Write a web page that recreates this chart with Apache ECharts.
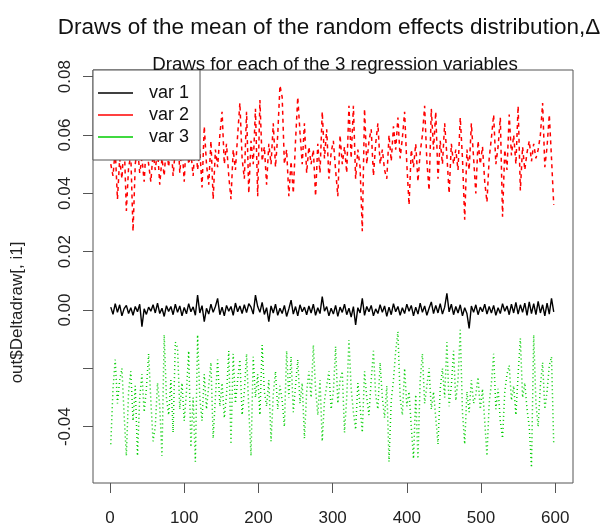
<!DOCTYPE html>
<html>
<head>
<meta charset="utf-8">
<script src="https://cdn.jsdelivr.net/npm/echarts@6/dist/echarts.min.js"></script>
<style>
html, body { margin: 0; padding: 0; background: #fff; }
#chart { width: 602px; height: 527px; }
</style>
</head>
<body>
<div id="chart"></div>
<script>
// MCMC draws, one value every 3rd draw
const step = 3
const seriesNames = ['var 1', 'var 2', 'var 3']

const var1 = [
  0.0010, -0.0015, 0.0022, -0.0008, 0.0018, -0.0020, 0.0005, 0.0016, -0.0012, 0.0008,
  -0.0018, 0.0012, -0.0006, 0.0020, -0.0057, 0.0004, -0.0015, 0.0010, -0.0004, 0.0018,
  -0.0010, 0.0024, -0.0012, 0.0006, -0.0022, 0.0015, -0.0005, 0.0012, -0.0016, 0.0020,
  -0.0008, 0.0014, -0.0020, 0.0009, -0.0013, 0.0022, -0.0006, 0.0011, -0.0018, 0.0051,
  -0.0010, 0.0015, -0.0040, 0.0006, -0.0014, 0.0020, -0.0008, 0.0012, 0.0040, -0.0016,
  0.0010, -0.0020, 0.0016, -0.0004, 0.0012, -0.0018, 0.0024, -0.0006, 0.0014, -0.0012,
  0.0018, -0.0009, 0.0022, 0.0010, -0.0014, 0.0051, 0.0012, -0.0008, 0.0026, -0.0015,
  0.0008, -0.0040, 0.0014, -0.0010, 0.0020, -0.0018, 0.0006, -0.0012, 0.0016, -0.0022,
  0.0004, 0.0034, -0.0014, 0.0012, -0.0020, 0.0018, -0.0006, 0.0010, -0.0016, 0.0014,
  -0.0010, 0.0020, -0.0018, 0.0008, -0.0012, 0.0046, -0.0004, 0.0012, -0.0020, 0.0006,
  -0.0014, 0.0016, -0.0022, 0.0010, -0.0008, 0.0020, -0.0016, 0.0006, -0.0024, 0.0012,
  -0.0051, 0.0008, -0.0010, 0.0040, -0.0018, 0.0012, -0.0006, 0.0016, -0.0020, 0.0004,
  -0.0012, 0.0018, -0.0008, 0.0014, -0.0022, 0.0010, -0.0016, 0.0022, -0.0006, 0.0012,
  -0.0018, 0.0008, -0.0012, 0.0020, -0.0004, 0.0016, -0.0020, 0.0010, -0.0014, 0.0024,
  -0.0008, 0.0014, -0.0018, 0.0006, 0.0028, -0.0012, 0.0016, -0.0010, 0.0022, -0.0014,
  0.0010, 0.0057, -0.0006, 0.0020, -0.0016, 0.0012, -0.0010, 0.0018, -0.0020, 0.0008,
  -0.0012, -0.0063, 0.0014, -0.0008, 0.0018, -0.0016, 0.0010, -0.0006, 0.0020, -0.0014,
  0.0012, -0.0010, 0.0016, -0.0018, 0.0008, -0.0012, 0.0022, -0.0004, 0.0014, -0.0016,
  0.0020, -0.0010, 0.0026, -0.0014, 0.0018, -0.0008, 0.0024, -0.0018, 0.0028, -0.0012,
  0.0022, -0.0016, 0.0030, -0.0010, 0.0018, -0.0020, 0.0024, -0.0014, 0.0040, -0.0006
]

const var2 = [
  0.050, 0.046, 0.055, 0.038, 0.052, 0.045, 0.058, 0.034, 0.049, 0.053,
  0.027, 0.050, 0.056, 0.047, 0.052, 0.044, 0.058, 0.050, 0.044, 0.054,
  0.048, 0.055, 0.043, 0.052, 0.046, 0.057, 0.049, 0.058, 0.046, 0.055,
  0.063, 0.047, 0.056, 0.044, 0.060, 0.050, 0.054, 0.046, 0.059, 0.048,
  0.055, 0.042, 0.063, 0.050, 0.043, 0.058, 0.038, 0.055, 0.049, 0.060,
  0.068, 0.050, 0.057, 0.046, 0.038, 0.055, 0.048, 0.060, 0.071, 0.052,
  0.045, 0.068, 0.040, 0.058, 0.050, 0.069, 0.039, 0.072, 0.051, 0.056,
  0.043, 0.057, 0.050, 0.064, 0.049, 0.060, 0.077, 0.073, 0.050, 0.055,
  0.039, 0.051, 0.040, 0.058, 0.073, 0.061, 0.050, 0.064, 0.047, 0.056,
  0.050, 0.055, 0.039, 0.057, 0.047, 0.068, 0.052, 0.062, 0.045, 0.054,
  0.058, 0.048, 0.039, 0.060, 0.050, 0.056, 0.047, 0.070, 0.052, 0.070,
  0.045, 0.055, 0.049, 0.027, 0.069, 0.050, 0.058, 0.062, 0.046, 0.057,
  0.064, 0.050, 0.055, 0.048, 0.045, 0.060, 0.051, 0.063, 0.055, 0.066,
  0.052, 0.059, 0.068, 0.050, 0.036, 0.055, 0.049, 0.057, 0.044, 0.054,
  0.060, 0.070, 0.051, 0.041, 0.069, 0.055, 0.068, 0.045, 0.058, 0.050,
  0.064, 0.053, 0.040, 0.057, 0.050, 0.055, 0.048, 0.066, 0.052, 0.031,
  0.055, 0.048, 0.064, 0.052, 0.040, 0.058, 0.050, 0.056, 0.044, 0.037,
  0.052, 0.059, 0.067, 0.050, 0.056, 0.066, 0.032, 0.055, 0.048, 0.067,
  0.053, 0.060, 0.050, 0.070, 0.041, 0.056, 0.048, 0.054, 0.058, 0.051,
  0.057, 0.052, 0.055, 0.060, 0.071, 0.049, 0.056, 0.067, 0.052, 0.036
]

const var3 = [
  -0.046, -0.027, -0.017, -0.032, -0.024, -0.020, -0.036, -0.050, -0.028, -0.021,
  -0.038, -0.026, -0.050, -0.030, -0.022, -0.035, -0.027, -0.015, -0.031, -0.045,
  -0.040, -0.025, -0.033, -0.050, -0.0085, -0.030, -0.036, -0.024, -0.042, -0.011,
  -0.013, -0.034, -0.025, -0.038, -0.028, -0.014, -0.047, -0.030, -0.052, -0.0085,
  -0.030, -0.038, -0.022, -0.034, -0.026, -0.018, -0.044, -0.030, -0.017, -0.033,
  -0.025, -0.037, -0.029, -0.014, -0.046, -0.015, -0.032, -0.024, -0.017, -0.036,
  -0.028, -0.015, -0.034, -0.050, -0.016, -0.030, -0.022, -0.036, -0.012, -0.028,
  -0.033, -0.024, -0.045, -0.029, -0.021, -0.034, -0.026, -0.031, -0.040, -0.014,
  -0.030, -0.016, -0.035, -0.026, -0.017, -0.032, -0.025, -0.044, -0.028, -0.021,
  -0.030, -0.012, -0.027, -0.036, -0.024, -0.045, -0.031, -0.026, -0.021, -0.034,
  -0.028, -0.0125, -0.032, -0.024, -0.021, -0.042, -0.030, -0.0103, -0.027, -0.035,
  -0.041, -0.025, -0.033, -0.042, -0.021, -0.030, -0.036, -0.024, -0.014, -0.029,
  -0.034, -0.018, -0.030, -0.037, -0.026, -0.052, -0.031, -0.024, -0.014, -0.0074,
  -0.030, -0.036, -0.020, -0.033, -0.028, -0.040, -0.051, -0.029, -0.051, -0.024,
  -0.015, -0.032, -0.026, -0.020, -0.034, -0.028, -0.037, -0.046, -0.027, -0.020,
  -0.030, -0.011, -0.033, -0.026, -0.014, -0.031, -0.024, -0.0068, -0.035, -0.046,
  -0.028, -0.035, -0.024, -0.032, -0.029, -0.023, -0.034, -0.027, -0.038, -0.050,
  -0.032, -0.025, -0.015, -0.034, -0.027, -0.038, -0.044, -0.028, -0.022, -0.019,
  -0.031, -0.026, -0.036, -0.022, -0.0097, -0.030, -0.025, -0.034, -0.040, -0.054,
  -0.0085, -0.032, -0.040, -0.026, -0.018, -0.034, -0.028, -0.019, -0.016, -0.046
]

const xTicks = [0, 100, 200, 300, 400, 500, 600]
const yTicks = [-0.04, -0.02, 0, 0.02, 0.04, 0.06, 0.08]
const yLabels = [-0.04, 0, 0.02, 0.04, 0.06, 0.08]

const iters = var1.map((v, i) => 1 + i * step)
const pair = arr => arr.map((v, i) => [iters[i], v])

const font = "'Liberation Sans', Arial, Helvetica, sans-serif"
const chart = echarts.init(document.getElementById('chart'))

const option = {
  animation: false,
  textStyle: { fontFamily: font },
  title: [
    {
      text: 'Draws of the mean of the random effects distribution,Δ',
      left: 324,
      top: 11,
      textAlign: 'center',
      textStyle: { fontSize: 22.5, fontWeight: 'normal', color: '#111', fontFamily: font }
    },
    {
      text: 'Draws for each of the 3 regression variables',
      left: 330,
      top: 50,
      textAlign: 'center',
      textStyle: { fontSize: 18.7, fontWeight: 'normal', color: '#111', fontFamily: font }
    }
  ],
  grid: {
    left: 93,
    top: 70,
    width: 480,
    height: 413,
    show: true,
    borderColor: '#555',
    borderWidth: 1
  },
  legend: {
    data: seriesNames,
    orient: 'vertical',
    left: 93,
    top: 70,
    icon: 'rect',
    itemWidth: 35,
    itemHeight: 1.5,
    itemGap: 4,
    padding: [14, 11, 14, 5],
    backgroundColor: '#fff',
    borderColor: '#555',
    borderWidth: 1,
    selectedMode: false,
    textStyle: { fontSize: 18, color: '#111', padding: [0, 0, 0, 11], fontFamily: font }
  },
  xAxis: {
    type: 'value',
    min: -22.96,
    max: 623.96,
    axisLine: { show: false, onZero: false },
    splitLine: { show: false },
    axisTick: { customValues: xTicks, length: 10, lineStyle: { color: '#555' } },
    axisLabel: { customValues: xTicks, margin: 27, fontSize: 17, color: '#222' }
  },
  yAxis: {
    type: 'value',
    min: -0.0593,
    max: 0.0823,
    name: 'out$Deltadraw[, i1]',
    nameLocation: 'middle',
    nameRotate: 90,
    nameGap: 67,
    nameTextStyle: { fontSize: 17, color: '#222', padding: [0, 72, 0, 0] },
    axisLine: { show: false, onZero: false },
    splitLine: { show: false },
    axisTick: { customValues: yTicks, length: 10, lineStyle: { color: '#555' } },
    axisLabel: {
      customValues: yLabels,
      rotate: 90,
      margin: 19,
      fontSize: 17,
      color: '#222',
      formatter: v => v.toFixed(2)
    }
  },
  series: [
    {
      name: seriesNames[0],
      type: 'line',
      data: pair(var1),
      showSymbol: false,
      color: '#000',
      lineStyle: { color: '#000', width: 1.4, type: 'solid' }
    },
    {
      name: seriesNames[1],
      type: 'line',
      data: pair(var2),
      showSymbol: false,
      color: '#ff0000',
      lineStyle: { color: '#ff0000', width: 1.5, type: [4, 4] }
    },
    {
      name: seriesNames[2],
      type: 'line',
      data: pair(var3),
      showSymbol: false,
      color: '#00cd00',
      lineStyle: { color: '#00cd00', width: 1.5, type: [1, 3] }
    }
  ]
}
chart.setOption(option)
window.addEventListener('resize', () => {
  chart.resize()
})
</script>
</body>
</html>
